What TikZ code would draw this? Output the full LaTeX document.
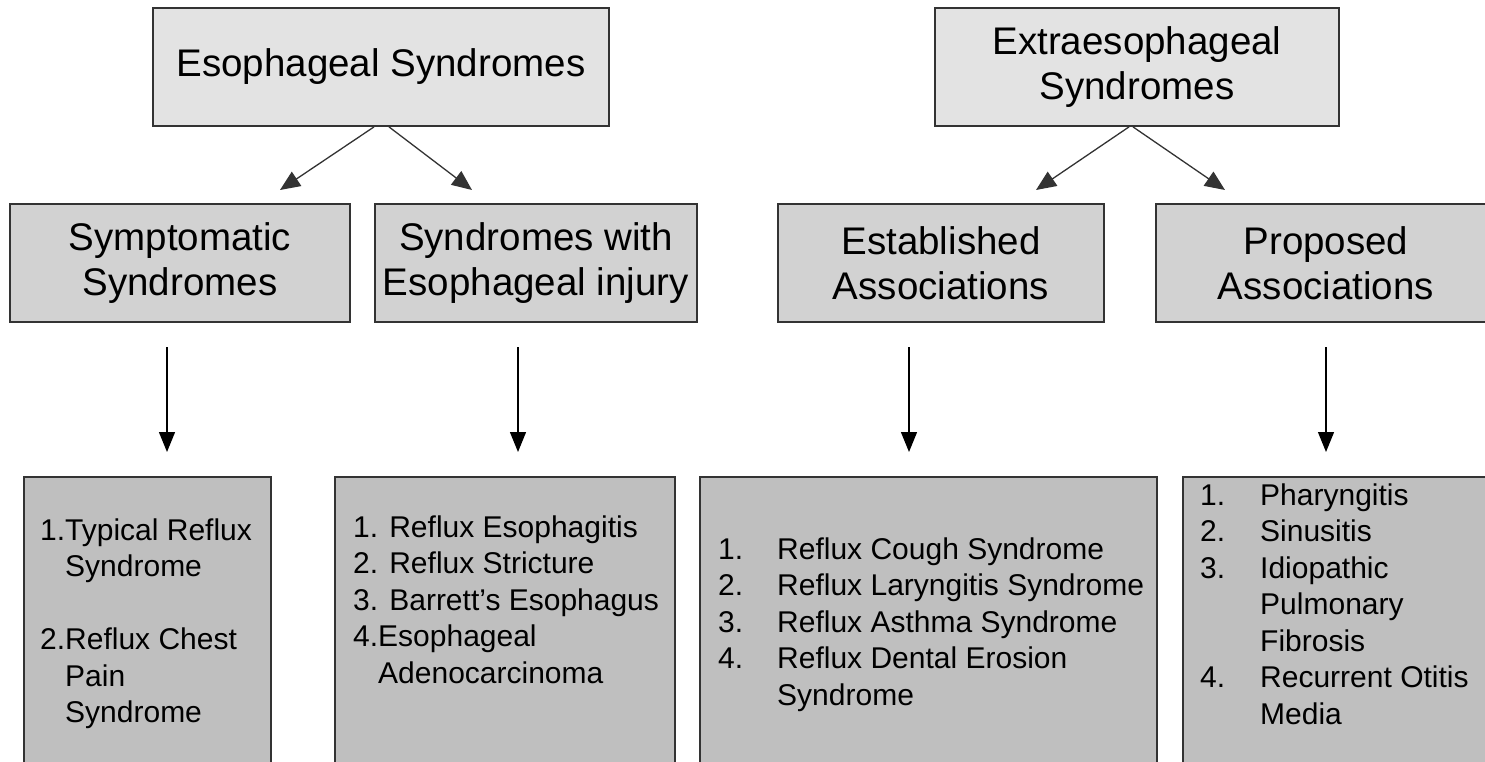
\documentclass[tikz,border=0pt]{standalone}
\usepackage{fontspec}
\setmainfont{Liberation Sans}
\usetikzlibrary{arrows.meta}

\begin{document}
\begin{tikzpicture}[x=1pt,y=-1pt,
			headbox/.style={draw=black!80,line width=1.8pt,fill=gray!22,minimum height=118pt,inner sep=2pt,align=center,font=\fontsize{38.5}{45}\selectfont},
			groupbox/.style={headbox,fill=gray!35},
			listbox/.style={draw=black!80,line width=1.8pt,fill=gray!50,minimum height=323pt,inner sep=0pt},
			listtext/.style={anchor=base west,inner sep=0pt,font=\fontsize{30}{36.5}\selectfont},
			arr/.style={draw=black!80,line width=1.3pt,-{Triangle[length=20pt,width=17pt]}},
			down/.style={draw=black,line width=1.3pt,-{Triangle[length=20pt,width=16pt]}}]
			\useasboundingbox (0,0) rectangle (1485,762);
			\clip (0,0) rectangle (1485,762);
			
			\node[headbox,minimum width=456pt] (eso) at (381,67) {Esophageal Syndromes};
			\node[headbox,minimum width=404pt] (extra) at (1137,67) {Extraesophageal\\Syndromes};
			
			\node[groupbox,minimum width=340pt] (symp) at (180,263) {Symptomatic\\Syndromes};
			\node[groupbox,minimum width=322pt] (injury) at (536,263) {Syndromes with\\Esophageal injury};
			\node[groupbox,minimum width=326pt] (estab) at (941,263) {Established\\Associations};
			\node[groupbox,minimum width=340pt] (prop) at (1326,263) {Proposed\\Associations};
			
			\node[listbox,minimum width=247pt] (typList) at (147.5,638.5) {};
			\node[listbox,minimum width=340pt] (injList) at (505,638.5) {};
			\node[listbox,minimum width=457pt] (estList) at (928.5,638.5) {};
			\node[listbox,minimum width=317pt] (propList) at (1341.5,638.5) {};
			
			\node[listtext] (typText) at (40,540) {\begin{tabular}[t]{@{}l@{}l@{}}
					1.&Typical Reflux\\
					&Syndrome\\[36.5pt]
					2.&Reflux Chest\\
					&Pain\\
					&Syndrome
				\end{tabular}};
			\node[listtext] (injText) at (353,537) {\begin{tabular}[t]{@{}l@{}}
					1. Reflux Esophagitis\\
					2. Reflux Stricture\\
					3. Barrett’s Esophagus\\
					4.Esophageal\\
					\phantom{4.}Adenocarcinoma
				\end{tabular}};
			\node[listtext] (estText) at (718,559) {\begin{tabular}[t]{@{}l@{\hspace{34pt}}l@{}}
					1.&Reflux Cough Syndrome\\
					2.&Reflux Laryngitis Syndrome\\
					3.&Reflux Asthma Syndrome\\
					4.&Reflux Dental Erosion\\
					&Syndrome
				\end{tabular}};
			\node[listtext] (propText) at (1200,505) {\begin{tabular}[t]{@{}l@{\hspace{35pt}}l@{}}
					1.&Pharyngitis\\
					2.&Sinusitis\\
					3.&Idiopathic\\
					&Pulmonary\\
					&Fibrosis\\
					4.&Recurrent Otitis\\
					&Media
				\end{tabular}};
			
			\coordinate (sympTip) at (280,190);
			\coordinate (injuryTip) at (472,190);
			\coordinate (estabTip) at (1036,190);
			\coordinate (propTip) at (1225,190);
			
			\coordinate (sympOut) at (167,347);
			\coordinate (typIn) at (167,452);
			\coordinate (injuryOut) at (518,347);
			\coordinate (injIn) at (518,452);
			\coordinate (estabOut) at (909,347);
			\coordinate (estIn) at (909,452);
			\coordinate (propOut) at (1326,347);
			\coordinate (propIn) at (1326,452);
			
			\draw[arr] ([xshift=-7pt]eso.south) -- (sympTip);
			\draw[arr] ([xshift=8pt]eso.south) -- (injuryTip);
			\draw[arr] ([xshift=-8pt]extra.south) -- (estabTip);
			\draw[arr] ([xshift=-4pt]extra.south) -- (propTip);
			
			\draw[down] (sympOut) -- (typIn);
			\draw[down] (injuryOut) -- (injIn);
			\draw[down] (estabOut) -- (estIn);
			\draw[down] (propOut) -- (propIn);
\end{tikzpicture}
\end{document}
